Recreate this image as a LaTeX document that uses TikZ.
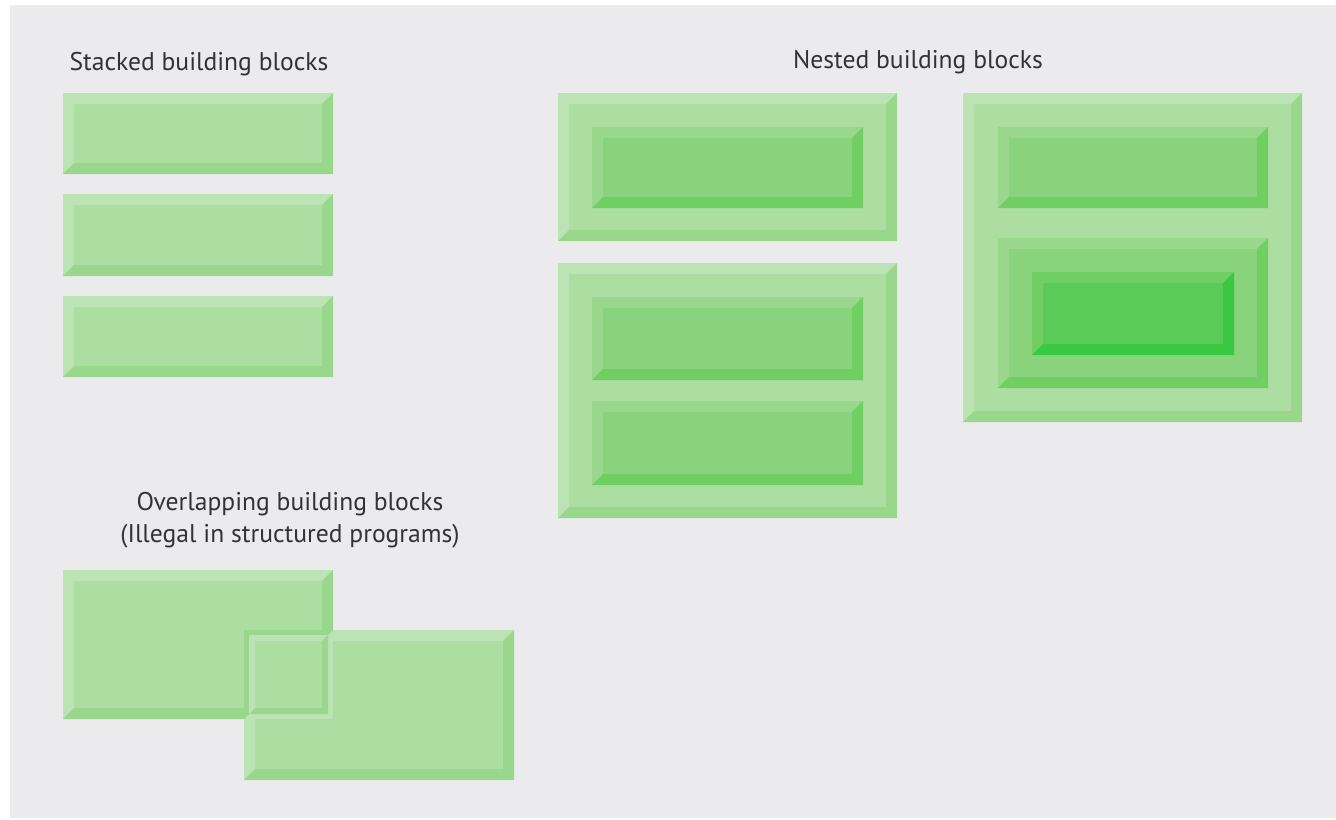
\documentclass[tikz,border=0pt]{standalone}
\usepackage{fontspec}
\setmainfont{PT Sans}
\usepackage{tikz}
\usetikzlibrary{positioning}

% shades of green, light bevel / face / dark bevel
\definecolor{panelgray}{RGB}{235,235,238}
\definecolor{Atop}{RGB}{188,227,180}
\definecolor{Aface}{RGB}{171,222,160}
\definecolor{Abot}{RGB}{152,215,140}
\definecolor{Btop}{RGB}{152,215,140}
\definecolor{Bface}{RGB}{136,211,124}
\definecolor{Bbot}{RGB}{111,207,99}
\definecolor{Ctop}{RGB}{111,207,99}
\definecolor{Cface}{RGB}{91,203,87}
\definecolor{Cbot}{RGB}{58,199,65}

% bevelled block: x1 y1 x2 y2 bevel shade
\newcommand{\bblock}[6]{%
  \fill[#6face] (#1,#2) rectangle (#3,#4);
  \fill[#6top] (#1,#2) -- (#3,#2) -- ({#3-#5},{#2+#5}) -- ({#1+#5},{#2+#5})
    -- ({#1+#5},{#4-#5}) -- (#1,#4) -- cycle;
  \fill[#6bot] (#3,#2) -- (#3,#4) -- (#1,#4) -- ({#1+#5},{#4-#5})
    -- ({#3-#5},{#4-#5}) -- ({#3-#5},{#2+#5}) -- cycle;
}

\begin{document}
\begin{tikzpicture}[x=0.5pt,y=-0.5pt]
	\tikzset{
	    title/.style={anchor=base, text=black!80, font=\fontsize{12.8}{15}\selectfont, inner sep=0pt}
	}
	\useasboundingbox (0,0) rectangle (1336,819);
	\fill[white] (0,0) rectangle (1336,819);
	\fill[panelgray] (10,5) rectangle (1336,818);

	% stacked
	\bblock{63}{93}{333}{174}{11}{A}
	\bblock{63}{194}{333}{276}{11}{A}
	\bblock{63}{296}{333}{377}{11}{A}

	% nested, left column
	\bblock{558}{93}{897}{241}{11}{A}
	\bblock{592}{127}{863}{208}{11}{B}
	\bblock{558}{263}{897}{518}{11}{A}
	\bblock{592}{297}{863}{380}{11}{B}
	\bblock{592}{401}{863}{485}{11}{B}

	% nested, right column
	\bblock{963}{93}{1302}{422}{11}{A}
	\bblock{998}{127}{1268}{208}{11}{B}
	\bblock{998}{238}{1268}{388}{11}{B}
	\bblock{1032}{272}{1234}{355}{11}{C}

	% overlapping
	\bblock{63}{570}{333}{719}{11}{A}
	\bblock{244}{630}{514}{780}{11}{A}
	\fill[Atop] (244,630) rectangle (333,719);
	\fill[Abot] (244,719) -- (244,630) -- (333,630) -- (328,635) -- (249,635) -- (249,714) -- cycle;
	\bblock{249}{635}{328}{714}{6}{A}

	\node[title] (stackTitle) at (199,70) {Stacked building blocks};
	\node[title] (nestTitle) at (918,68) {Nested building blocks};
	\node[title] (overlapTitle) at (290,510) {Overlapping building blocks};
	\node[title, below=16pt of overlapTitle.base, anchor=base] (illegalNote) {(Illegal in structured programs)};
\end{tikzpicture}
\end{document}
